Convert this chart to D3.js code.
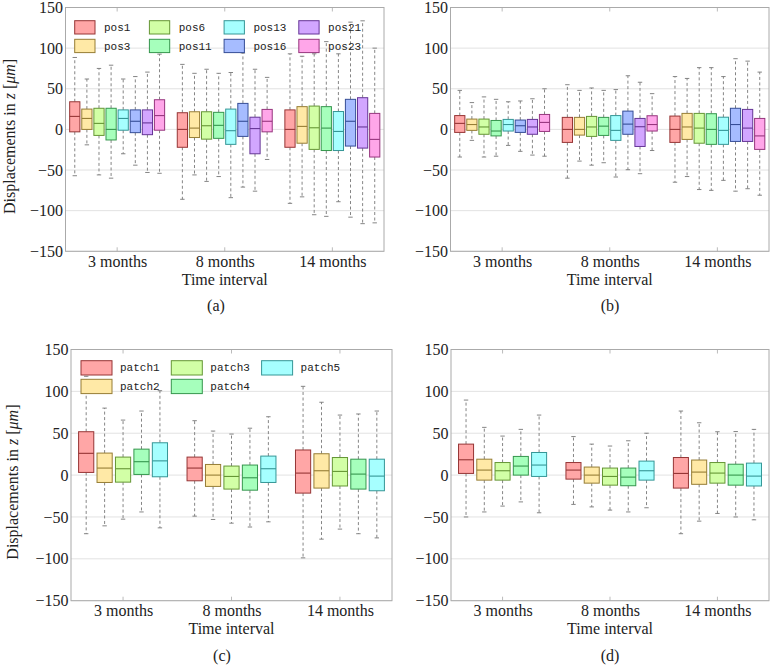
<!DOCTYPE html>
<html><head><meta charset="utf-8">
<script src="https://cdn.jsdelivr.net/npm/d3@7"></script>
<style>body{margin:0;background:#fff} svg{display:block}</style>
</head><body>
<svg id="chart" width="772" height="669"></svg>
<script>
const categories = ["3 months", "8 months", "14 months"];
const yTicks = [-150, -100, -50, 0, 50, 100, 150];
const posSeries = ["pos1", "pos3", "pos6", "pos11", "pos13", "pos16", "pos21", "pos23"];
const patchSeries = ["patch1", "patch2", "patch3", "patch4", "patch5"];
const seriesHues = [0, 45, 90, 135, 180, 225, 270, 315];

// [low whisker, q1, median, q3, high whisker] for each series, for each time interval
const panelA = [
  [[-57, -3, 16, 34, 88.5], [-86, -22, 0, 20.5, 80], [-91, -22, 0, 24, 93]],
  [[-19, 0, 13.5, 25, 62], [-56, -10, 1.6, 21.7, 69], [-83, -17, 3.7, 28, 90]],
  [[-56, -7.4, 7.4, 26, 75], [-64, -12, 4.5, 21.7, 74], [-105, -24.6, 2, 28.7, 93]],
  [[-60, -13, 0, 26, 79], [-58, -11, 5, 21, 69], [-107, -26, 1.6, 28, 108]],
  [[-30, -1, 13.5, 24, 62], [-84, -18.4, -1.6, 25, 70], [-89, -26, -2.5, 22, 93]],
  [[-44, -4, 10, 24, 65], [-71, -8.6, 10, 32, 94], [-108, -20.5, 10, 37, 132]],
  [[-53, -6.5, 8, 24, 70.5], [-76, -30, 1, 15, 74], [-116, -23, 3, 39, 133.6]],
  [[-54, -1, 17, 36.5, 92.6], [-37, -3, 10, 24.6, 64], [-115, -34, -12.3, 19.7, 100]]
];
const panelB = [
  [[-34, -3.7, 7.4, 17, 48], [-60, -16, 0, 14.8, 55], [-65, -16, 0, 16.4, 65]],
  [[-13.5, -1.2, 6, 12.7, 33], [-39, -7, 0, 14.8, 48], [-58, -12.3, 3, 19.7, 62.7]],
  [[-34, -6, 3, 12.7, 40], [-44, -8.6, 3, 16, 51], [-74, -17, 1.6, 19.7, 76]],
  [[-33, -8, -2, 11, 37], [-41, -7.4, 4, 14.8, 48], [-75, -18.4, 0, 19.3, 76]],
  [[-19.7, -2, 6, 12.3, 34], [-58.6, -13.5, -1.2, 17, 49], [-62.7, -18.4, -1.2, 15, 65]],
  [[-27, -3.7, 4.5, 11.5, 35], [-49.6, -6, 6.5, 22.5, 66], [-76, -14.8, 6, 26, 87]],
  [[-31.6, -6, 3, 12.3, 37.7], [-54.5, -21, 3.3, 13.5, 58], [-73, -14.8, 1.6, 24.6, 84]],
  [[-33, -2.5, 8.6, 18.4, 50], [-26, -2, 6, 16.8, 44], [-81, -24.6, -8, 13.5, 70.5]]
];
const panelC = [
  [[-70, 3.2, 26, 51.8, 118], [-49, -6.8, 8.4, 21.5, 65], [-98.8, -21.5, 2.4, 30, 106]],
  [[-60.6, -8.8, 8.4, 26.3, 80], [-53, -13.5, 0, 12.7, 52.6], [-76.5, -15.5, 5.2, 25.5, 87]],
  [[-52.6, -8.4, 7.6, 21.5, 65.7], [-57.4, -16.7, -1.6, 10.8, 49], [-64.5, -13, 4.4, 21, 71.7]],
  [[-44, 0.8, 16, 31, 76.5], [-62, -18, -3.2, 12, 56], [-70, -16.7, 1.2, 19, 73]],
  [[-63, -2, 17, 38.6, 100.8], [-55.8, -8.8, 7.6, 22.7, 69.7], [-75, -18.7, -1.2, 19, 76.5]]
];
const panelD = [
  [[-50, 2, 18.3, 37, 89.6], [-35, -4.8, 6, 15, 46], [-70, -15.5, 2, 21, 76.5]],
  [[-44, -6, 6, 19, 57], [-38, -9.6, 0, 9.6, 37], [-55, -11, 3.6, 18, 62.5]],
  [[-37, -6, 5.2, 15, 46.6], [-41.8, -12, -1.6, 8.4, 34.7], [-45.8, -9.6, 2.4, 15, 51.8]],
  [[-32, 0, 10.8, 22.3, 54.6], [-44, -12.7, -2.4, 8.4, 41], [-50, -12, 0, 13, 52]],
  [[-45, -1.6, 12, 27, 71.7], [-39, -6, 5.2, 16.7, 50], [-53.4, -13, -1.2, 14.3, 54.6]]
];

const svg = d3.select("#chart");
const SERIF = "'Liberation Serif', 'Times New Roman', serif";
const MONO = "'Liberation Mono', 'DejaVu Sans Mono', monospace";
const TXT = "#222";

function hueColor(h) { return d3.rgb(d3.hsl(h, 1, 0.5)); }
function fillColor(h) { return d3.interpolateRgb("#ffffff", hueColor(h))(0.35); }
function edgeColor(h) { return d3.interpolateRgb(hueColor(h), "#555555")(0.62); }

function fmt(d) { return d < 0 ? "\u2212" + Math.abs(d) : String(d); }

function drawPanel(p) {
  const g = svg.append("g");
  const x = d3.scaleLinear().domain([0.52, 3.48]).range([p.left, p.right]);
  const y = d3.scaleLinear().domain([-150, 150]).range([p.bottom, p.top]);
  const n = p.series.length;
  const step = n === 8 ? 0.1125 : 0.17;
  const bw = n === 8 ? 0.095 : 0.14;

  // grid
  g.selectAll(".grid").data(yTicks).join("line")
    .attr("x1", p.left).attr("x2", p.right)
    .attr("y1", d => y(d)).attr("y2", d => y(d))
    .attr("stroke", "#e2e2e2").attr("stroke-width", 1);

  // category ticks on frame
  [1, 2, 3].forEach(c => {
    g.append("line").attr("x1", x(c)).attr("x2", x(c)).attr("y1", p.bottom).attr("y2", p.bottom - 4)
      .attr("stroke", "#bbb");
    g.append("line").attr("x1", x(c)).attr("x2", x(c)).attr("y1", p.top).attr("y2", p.top + 4)
      .attr("stroke", "#bbb");
  });

  const items = [];
  p.data.forEach((ser, si) => ser.forEach((st, ci) => {
    items.push({ si, cx: ci + 1 + (si - (n - 1) / 2) * step, st, hue: seriesHues[si] });
  }));

  // whiskers
  items.forEach(it => {
    const [lo, q1, md, q3, hi] = it.st;
    const xc = x(it.cx);
    const cap = 2.2;
    g.append("line").attr("x1", xc).attr("x2", xc).attr("y1", y(q3)).attr("y2", y(hi))
      .attr("stroke", "#777").attr("stroke-dasharray", "3,2.5").attr("stroke-width", 0.9);
    g.append("line").attr("x1", xc).attr("x2", xc).attr("y1", y(q1)).attr("y2", y(lo))
      .attr("stroke", "#777").attr("stroke-dasharray", "3,2.5").attr("stroke-width", 0.9);
    g.append("line").attr("x1", xc - cap).attr("x2", xc + cap).attr("y1", y(hi)).attr("y2", y(hi))
      .attr("stroke", "#777").attr("stroke-width", 0.9);
    g.append("line").attr("x1", xc - cap).attr("x2", xc + cap).attr("y1", y(lo)).attr("y2", y(lo))
      .attr("stroke", "#777").attr("stroke-width", 0.9);
  });
  // boxes
  items.forEach(it => {
    const [lo, q1, md, q3, hi] = it.st;
    const x0 = x(it.cx - bw / 2), x1 = x(it.cx + bw / 2);
    g.append("rect").attr("x", x0).attr("y", y(q3)).attr("width", x1 - x0).attr("height", y(q1) - y(q3))
      .attr("fill", fillColor(it.hue)).attr("stroke", edgeColor(it.hue)).attr("stroke-width", 1);
    g.append("line").attr("x1", x0).attr("x2", x1).attr("y1", y(md)).attr("y2", y(md))
      .attr("stroke", edgeColor(it.hue)).attr("stroke-width", 1.1);
  });

  // frame
  g.append("rect").attr("x", p.left).attr("y", p.top).attr("width", p.right - p.left).attr("height", p.bottom - p.top)
    .attr("fill", "none").attr("stroke", "#aaa").attr("stroke-width", 1);

  // axes labels
  const ya = g.append("g").attr("transform", `translate(${p.left},0)`)
    .call(d3.axisLeft(y).tickValues(yTicks).tickSize(0).tickPadding(2.5).tickFormat(fmt));
  ya.select(".domain").remove();
  ya.selectAll("text").attr("font-family", SERIF).attr("font-size", 16).attr("fill", TXT);

  const xa = g.append("g").attr("transform", `translate(0,${p.bottom})`)
    .call(d3.axisBottom(x).tickValues([1, 2, 3]).tickSize(0).tickPadding(4).tickFormat(c => categories[c - 1]));
  xa.select(".domain").remove();
  xa.selectAll("text").attr("font-family", SERIF).attr("font-size", 16).attr("fill", TXT);

  g.append("text").attr("x", (p.left + p.right) / 2).attr("y", p.bottom + 33.5)
    .attr("text-anchor", "middle").attr("font-family", SERIF).attr("font-size", 16).attr("fill", TXT)
    .text("Time interval");

  g.append("text").attr("x", p.captionX).attr("y", p.bottom + 60)
    .attr("text-anchor", "middle").attr("font-family", SERIF).attr("font-size", 16).attr("fill", TXT)
    .text(p.caption);

  if (p.ylabelX) {
    const cy = (p.top + p.bottom) / 2 + 7;
    const t = g.append("text").attr("transform", `translate(${p.ylabelX},${cy}) rotate(-90)`)
      .attr("text-anchor", "middle").attr("font-family", SERIF).attr("font-size", 16).attr("fill", TXT);
    t.append("tspan").text("Displacements in ");
    t.append("tspan").attr("font-style", "italic").text("z");
    t.append("tspan").text(" [");
    t.append("tspan").attr("font-style", "italic").text("\u03bcm");
    t.append("tspan").text("]");
  }

  if (p.legend) {
    const L = p.legend;
    p.series.forEach((name, i) => {
      const col = Math.floor(i / 2), row = i % 2;
      const lx = L.x0 + col * L.colW, ly = L.y0 + row * L.rowH;
      g.append("rect").attr("x", lx).attr("y", ly).attr("width", L.rectW).attr("height", L.rectH)
        .attr("fill", fillColor(seriesHues[i])).attr("stroke", edgeColor(seriesHues[i])).attr("stroke-width", 1);
      g.append("text").attr("x", lx + L.textDx).attr("y", ly + L.rectH / 2 + 3.6)
        .attr("font-family", MONO).attr("font-size", 11).attr("fill", TXT).text(name);
    });
  }
}

drawPanel({ left: 65.5, right: 384, top: 7.5, bottom: 251.3, data: panelA, series: posSeries,
  caption: "(a)", captionX: 216, ylabelX: 15,
  legend: { x0: 74.7, y0: 20.7, colW: 74.7, rowH: 18.6, rectW: 20.3, rectH: 13.3, textDx: 29.3 } });
drawPanel({ left: 450.5, right: 769, top: 7.5, bottom: 251.3, data: panelB, series: posSeries,
  caption: "(b)", captionX: 610 });
drawPanel({ left: 71, right: 392, top: 349.5, bottom: 600.7, data: panelC, series: patchSeries,
  caption: "(c)", captionX: 222, ylabelX: 18,
  legend: { x0: 81, y0: 360.7, colW: 90.3, rowH: 18.6, rectW: 31, rectH: 14.3, textDx: 39 } });
drawPanel({ left: 451, right: 769, top: 349.5, bottom: 600.7, data: panelD, series: patchSeries,
  caption: "(d)", captionX: 610 });
</script>
</body></html>
